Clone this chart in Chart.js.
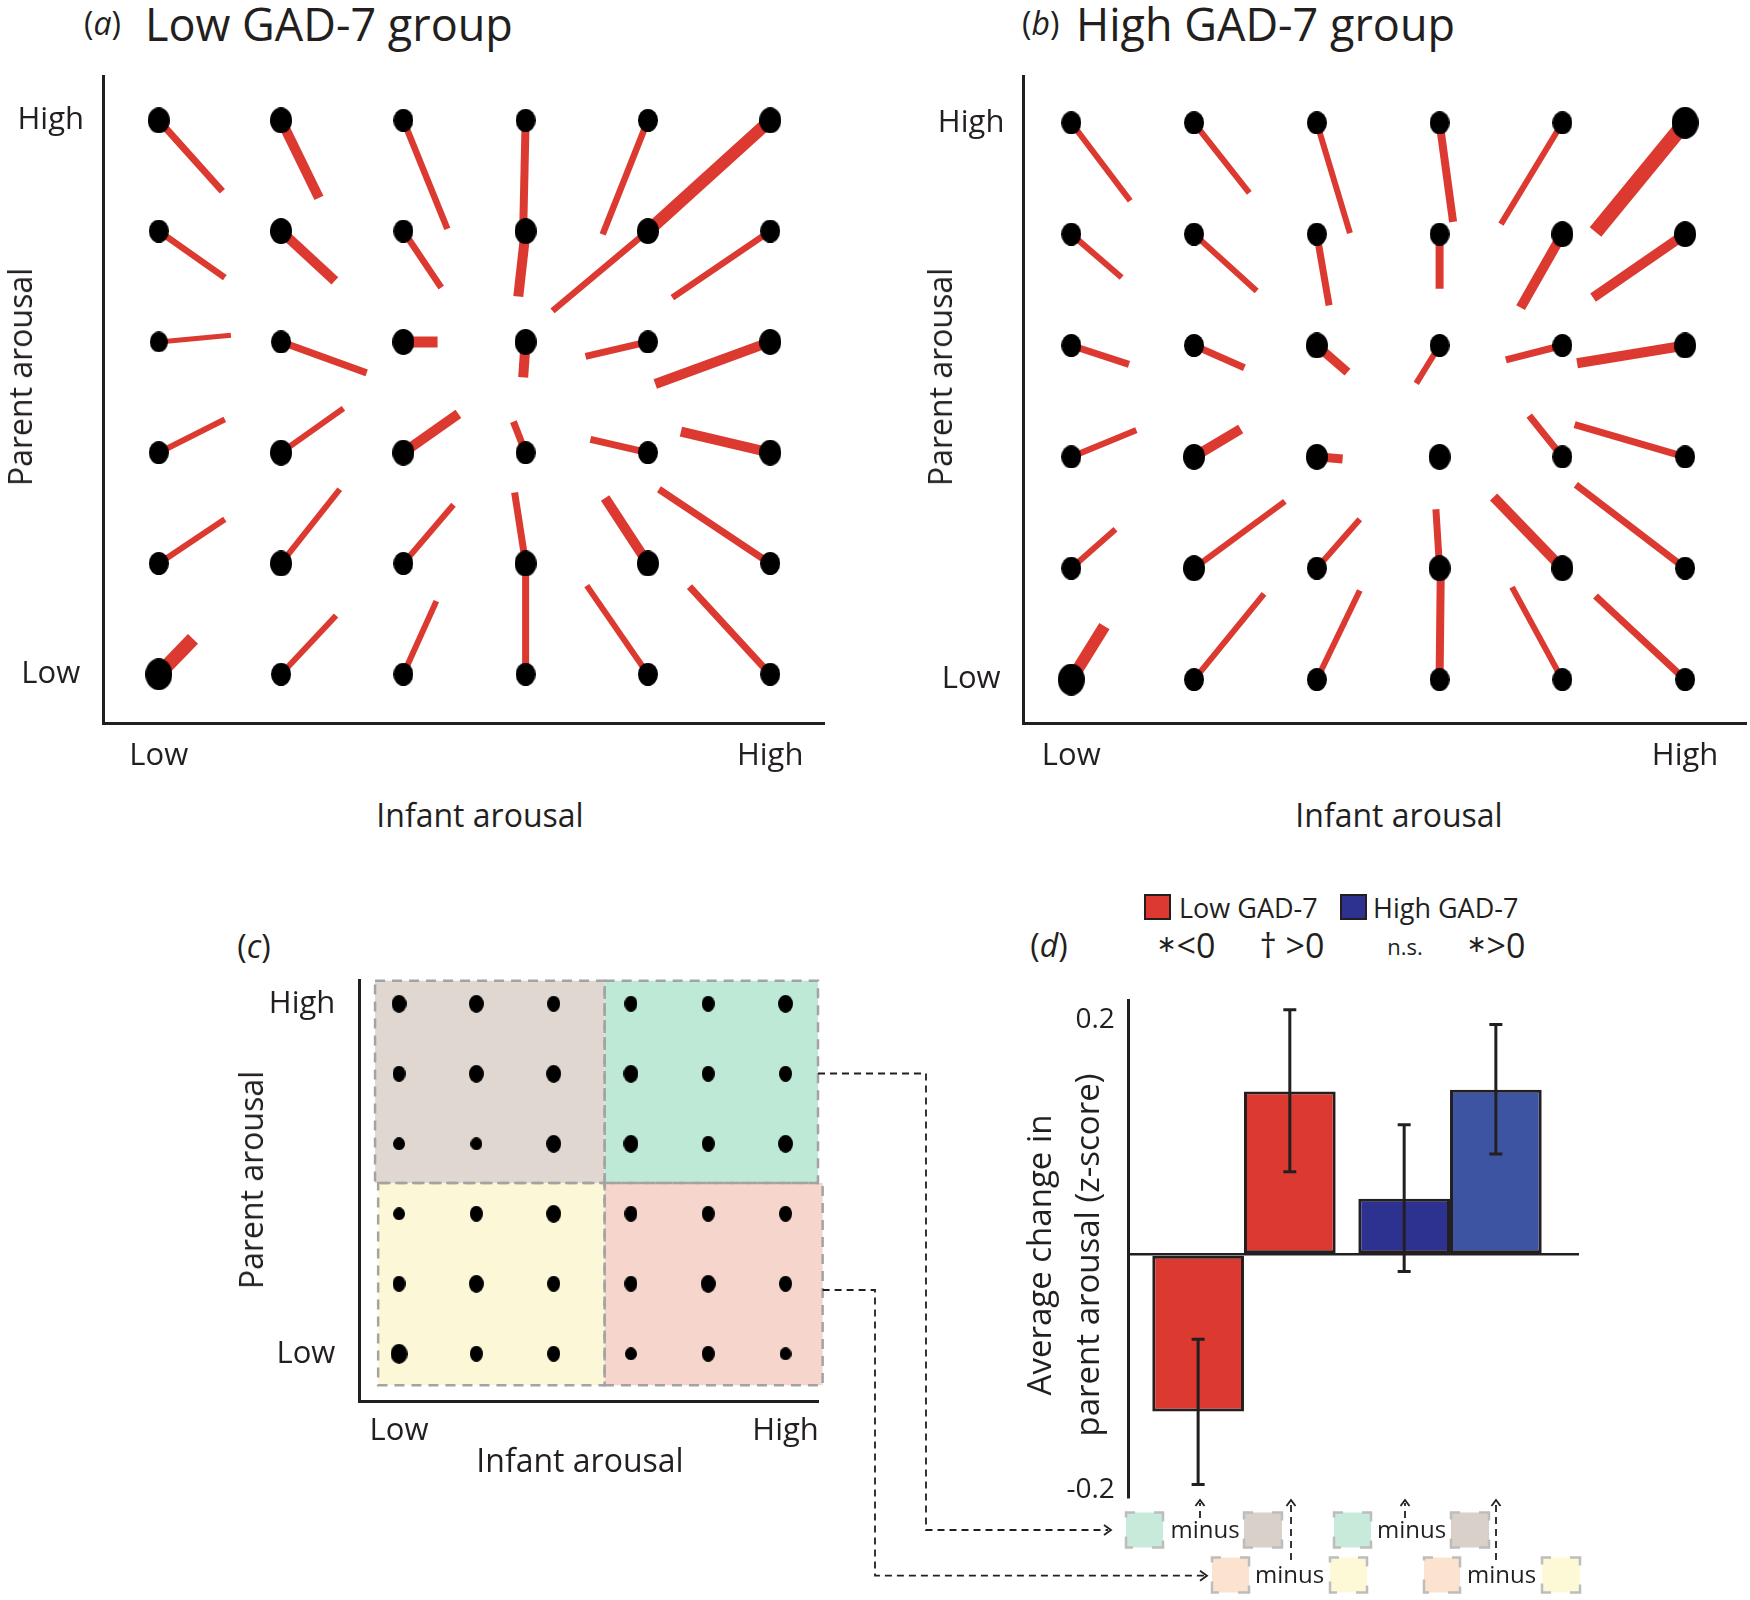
<!DOCTYPE html>
<html>
<head>
  <meta charset="UTF-8">
  <title>Parent and infant arousal dynamics</title>
  <script src="https://cdn.jsdelivr.net/npm/chart.js@4.4.0/dist/chart.umd.min.js"></script>
  <style>
    body { margin: 0; background: #fff; }
    #page { position: relative; width: 1750px; height: 1600px; overflow: hidden;
            font-family: 'Open Sans', 'DejaVu Sans', sans-serif; color: #231f20; }
    .box { position: absolute; }
    .txt { position: absolute; white-space: nowrap; line-height: 1; }
    .l { transform: translateY(-50%); }
    .c { transform: translate(-50%, -50%); }
    .rot { transform: translate(-50%, -50%) rotate(-90deg); }
    .sw { position: absolute; width: 27px; height: 26px; box-sizing: border-box; border: 2.5px solid #231f20; }
    .star { font-size: 24px; font-family: 'DejaVu Sans', sans-serif; position: relative; top: -6px; }
    svg { position: absolute; left: 0; top: 0; }
  </style>
</head>
<body>
<div id="page">

  <div class="txt l" style="left:84px;top:23px;font-size:32px">(<i>a</i>)</div>
  <div class="txt l" style="left:145px;top:23px;font-size:45px">Low GAD-7 group</div>
  <div class="txt l" style="left:1022px;top:23px;font-size:32px">(<i>b</i>)</div>
  <div class="txt l" style="left:1076px;top:23px;font-size:45px">High GAD-7 group</div>

  <div class="box" style="left:0;top:60px;width:850px;height:720px"><canvas id="chartA"></canvas></div>
  <div class="box" style="left:880px;top:60px;width:870px;height:720px"><canvas id="chartB"></canvas></div>

  <div class="txt rot" style="left:20px;top:377px;font-size:32px">Parent arousal</div>
  <div class="txt c" style="left:480px;top:815px;font-size:32px">Infant arousal</div>
  <div class="txt rot" style="left:940px;top:377px;font-size:32px">Parent arousal</div>
  <div class="txt c" style="left:1399px;top:815px;font-size:32px">Infant arousal</div>

  <div class="txt c" style="left:254px;top:946px;font-size:32px">(<i>c</i>)</div>
  <div class="box" style="left:250px;top:960px;width:590px;height:500px"><canvas id="chartC"></canvas></div>
  <div class="txt rot" style="left:251px;top:1180px;font-size:32px">Parent arousal</div>
  <div class="txt c" style="left:580px;top:1460px;font-size:32px">Infant arousal</div>

  <div class="txt c" style="left:1049px;top:945px;font-size:32px">(<i>d</i>)</div>
  <div class="sw" style="left:1144px;top:894px;background:#dc3930"></div>
  <div class="txt l" style="left:1179px;top:907px;font-size:27px">Low GAD-7</div>
  <div class="sw" style="left:1340px;top:894px;background:#2d3291"></div>
  <div class="txt l" style="left:1373px;top:907px;font-size:27px">High GAD-7</div>
  <div class="txt c" style="left:1186px;top:945px;font-size:34px"><span class="star">∗</span>&lt;0</div>
  <div class="txt c" style="left:1292px;top:945px;font-size:34px">† &gt;0</div>
  <div class="txt c" style="left:1405px;top:946px;font-size:22px">n.s.</div>
  <div class="txt c" style="left:1496px;top:945px;font-size:34px"><span class="star">∗</span>&gt;0</div>

  <div class="box" style="left:1020px;top:980px;width:600px;height:540px"><canvas id="chartD"></canvas></div>
  <div class="txt rot" style="left:1038px;top:1255px;font-size:33px">Average change in</div>
  <div class="txt rot" style="left:1086px;top:1255px;font-size:33px">parent arousal (z-score)</div>

  <svg width="1750" height="1600">
    <g fill="none" stroke="#231f20" stroke-width="1.8" stroke-dasharray="7 5">
      <path d="M818 1073.5 H926 V1530 H1108"/>
      <path d="M822.6 1290 H875 V1575.7 H1204"/>
      <path d="M1200 1518 V1503"/>
      <path d="M1291 1560 V1503"/>
      <path d="M1405 1518 V1503"/>
      <path d="M1496 1560 V1503"/>
    </g>
    <g fill="none" stroke="#231f20" stroke-width="1.8">
      <path d="M1104 1525 L1111 1530 L1104 1535"/>
      <path d="M1200 1570.7 L1207 1575.7 L1200 1580.7"/>
      <path d="M1195.5 1506 L1200 1500 L1204.5 1506"/>
      <path d="M1286.5 1506 L1291 1500 L1295.5 1506"/>
      <path d="M1400.5 1506 L1405 1500 L1409.5 1506"/>
      <path d="M1491.5 1506 L1496 1500 L1500.5 1506"/>
    </g>
    <g stroke="#bdbdbd" stroke-width="2.5" stroke-dasharray="18 19" stroke-dashoffset="9">
      <rect x="1126" y="1512.5" width="37" height="35" fill="#c8eadb"/>
      <rect x="1244" y="1512.5" width="38" height="35" fill="#d8d0c9"/>
      <rect x="1334" y="1512.5" width="37" height="35" fill="#c8eadb"/>
      <rect x="1451" y="1512.5" width="38" height="35" fill="#d8d0c9"/>
      <rect x="1212" y="1557.5" width="37" height="35" fill="#fbe3cf"/>
      <rect x="1330" y="1557.5" width="37" height="35" fill="#fdf9d6"/>
      <rect x="1424" y="1557.5" width="36" height="35" fill="#fbe3cf"/>
      <rect x="1542" y="1557.5" width="38" height="35" fill="#fdf9d6"/>
    </g>
    <g font-family="Open Sans, sans-serif" font-size="24" fill="#231f20" text-anchor="middle">
      <text x="1205" y="1538">minus</text>
      <text x="1411.5" y="1538">minus</text>
      <text x="1289.5" y="1583">minus</text>
      <text x="1501.5" y="1583">minus</text>
    </g>
  </svg>
</div>

<script>
  // grid rows run from High (top) to Low (bottom) parent arousal, columns Low -> High infant arousal
  const levelLabels = ['Low', 'High'];

  const lowGadDx = [
    [0.52, 0.31, 0.36, -0.02, -0.37, -0.98],
    [0.54, 0.44, 0.31, -0.06, -0.78, -0.80],
    [0.59, 0.70, 0.28, -0.02, -0.51, -0.94],
    [0.54, 0.51, 0.45, -0.10, -0.47, -0.73],
    [0.54, 0.48, 0.41, -0.09, -0.35, -0.91],
    [0.28, 0.45, 0.27, 0.00, -0.50, -0.66]
  ];
  const lowGadDy = [
    [-0.64, -0.70, -0.98, -1.00, -1.03, -0.98],
    [-0.42, -0.45, -0.51, -0.59, -0.72, -0.60],
    [0.06, -0.28, 0.00, -0.32, -0.13, -0.38],
    [0.30, 0.40, 0.35, 0.28, 0.12, 0.19],
    [0.40, 0.67, 0.53, 0.64, 0.59, 0.67],
    [0.32, 0.53, 0.66, 1.00, 0.80, 0.79]
  ];
  const lowGadWeight = [
    [7, 10, 6.5, 8, 6.5, 12.5],
    [6.5, 10, 6.5, 10, 6.5, 6.5],
    [5, 7, 11, 10, 7, 10],
    [6, 6, 10, 7, 7, 10],
    [6, 6, 6, 7, 10, 7],
    [14, 6, 6, 7, 6, 7]
  ];
  const lowGadDot = [
    [3, 3, 2, 2, 2, 3],
    [2, 3, 2, 3, 3, 2],
    [1, 2, 3, 3, 2, 3],
    [2, 3, 3, 2, 2, 3],
    [2, 3, 2, 3, 3, 2],
    [4, 2, 2, 2, 2, 2]
  ];

  const highGadDx = [
    [0.48, 0.45, 0.27, 0.11, -0.50, -0.73],
    [0.41, 0.51, 0.10, 0.00, -0.34, -0.75],
    [0.47, 0.41, 0.25, -0.19, -0.46, -0.88],
    [0.53, 0.38, 0.21, 0.00, -0.27, -0.90],
    [0.36, 0.74, 0.35, -0.03, -0.56, -0.89],
    [0.27, 0.57, 0.35, 0.01, -0.41, -0.73]
  ];
  const highGadDy = [
    [-0.70, -0.63, -0.99, -0.89, -0.91, -0.98],
    [-0.39, -0.51, -0.64, -0.49, -0.66, -0.57],
    [-0.17, -0.20, -0.24, -0.34, -0.13, -0.16],
    [0.24, 0.25, -0.02, 0.00, 0.37, 0.29],
    [0.35, 0.60, 0.44, 0.53, 0.64, 0.75],
    [0.48, 0.77, 0.80, 1.00, 0.83, 0.75]
  ];
  const highGadWeight = [
    [6, 6, 6, 8, 6, 15],
    [6, 6, 7, 8, 10, 10],
    [7, 7, 9, 6, 7, 10],
    [6, 10, 9, 0, 7, 7],
    [6, 6, 6, 7, 10, 7],
    [12, 6, 6, 8, 6, 7]
  ];
  const highGadDot = [
    [2, 2, 2, 2, 2, 4],
    [2, 2, 2, 2, 3, 3],
    [2, 2, 3, 2, 2, 3],
    [2, 3, 3, 3, 2, 2],
    [2, 3, 2, 3, 3, 2],
    [4, 2, 2, 2, 2, 2]
  ];

  // panel c: state occupancy and the four quadrants
  const stateDot = [
    [3, 3, 2, 2, 2, 3],
    [2, 3, 3, 3, 2, 2],
    [1, 1, 3, 3, 2, 3],
    [1, 2, 3, 2, 2, 2],
    [2, 3, 2, 2, 3, 2],
    [4, 2, 2, 1, 2, 1]
  ];
  const quadX0 = [-0.31, 2.66, -0.27, 2.66];
  const quadX1 = [2.66, 5.42, 2.66, 5.48];
  const quadY0 = [2.44, 2.44, -0.45, -0.45];
  const quadY1 = [5.33, 5.33, 2.44, 2.44];

  // panel d: mean change in parent arousal, Low GAD-7 then High GAD-7
  const groups = ['Low GAD-7', 'High GAD-7'];
  const upperDiff = [-0.1335, 0.0476];     // high parent arousal: green minus grey
  const upperLow = [-0.1957, -0.0143];
  const upperHigh = [-0.072, 0.1105];
  const lowerDiff = [0.1387, 0.1403];      // low parent arousal: peach minus yellow
  const lowerLow = [0.0705, 0.0856];
  const lowerHigh = [0.2084, 0.1957];
  const valueTicks = [-0.2, 0, 0.2];

  const INK = '#231f20';
  const RED = '#dc3a31';
  const FONT = "'Open Sans', 'DejaVu Sans', sans-serif";
  const quadColors = ['#e0d8d0', '#bfe9d7', '#fcf8d7', '#f6d6cc'];

  function ellipse(w, h) {
    const c = document.createElement('canvas');
    c.width = w; c.height = h;
    const g = c.getContext('2d');
    g.fillStyle = '#000';
    g.beginPath();
    g.ellipse(w / 2, h / 2, w / 2, h / 2, 0, 0, Math.PI * 2);
    g.fill();
    return c;
  }
  const fieldDots = { 1: ellipse(18, 21), 2: ellipse(20, 23), 3: ellipse(22, 26), 4: ellipse(27, 32) };
  const stateDots = { 1: ellipse(12, 13), 2: ellipse(13, 16), 3: ellipse(15, 18), 4: ellipse(17, 20) };

  // fixed-size axis boxes, so the plot area lands where the figure has it
  const fixWidth = w => s => { s.width = w; s.paddingTop = 0; s.paddingBottom = 0; };
  const fixHeight = h => s => { s.height = h; s.paddingLeft = 0; s.paddingRight = 0; };

  function levelScale(range, fit, tickPad, crossAlign) {
    return {
      type: 'linear', min: range[0], max: range[1], bounds: 'data',
      grid: { display: false, drawTicks: false, tickLength: 0 },
      border: { display: true, color: INK, width: 3 },
      afterBuildTicks: s => { s.ticks = [{ value: 0 }, { value: 5 }]; },
      afterFit: fit,
      ticks: { callback: v => v === 0 ? levelLabels[0] : levelLabels[1], font: { family: FONT, size: 31 },
               color: INK, padding: tickPad, maxRotation: 0, autoSkip: false, crossAlign: crossAlign || 'near' }
    };
  }

  function dotDataset(sizes, imgs) {
    const data = [], styles = [];
    sizes.forEach((row, i) => row.forEach((s, j) => {
      data.push({ x: j, y: 5 - i });
      styles.push(imgs[s]);
    }));
    return { data, pointStyle: styles, pointRadius: 10, order: 0 };
  }

  function fieldChart(id, dx, dy, weight, dots, xr, yr, yWidth, padRight) {
    const datasets = [dotDataset(dots, fieldDots)];
    dx.forEach((row, i) => row.forEach((v, j) => {
      if (!weight[i][j]) return;
      const y = 5 - i;
      datasets.push({
        data: [{ x: j, y }, { x: j + v, y: y + dy[i][j] }],
        showLine: true, borderColor: RED, borderWidth: weight[i][j], pointRadius: 0, order: 1
      });
    }));
    new Chart(document.getElementById(id), {
      type: 'scatter',
      data: { datasets },
      options: {
        responsive: true, maintainAspectRatio: false, animation: false, events: [],
        layout: { padding: { top: 16, right: padRight, left: 0, bottom: 0 }, autoPadding: false },
        plugins: { legend: { display: false }, tooltip: { enabled: false } },
        scales: {
          x: levelScale(xr, fixHeight(57), 15),
          y: levelScale(yr, fixWidth(yWidth), 19, 'center')
        }
      }
    });
  }

  Chart.defaults.font.family = FONT;

  fieldChart('chartA', lowGadDx, lowGadDy, lowGadWeight, lowGadDot, [-0.456, 5.44], [-0.44, 5.40], 103, 26);
  fieldChart('chartB', highGadDx, highGadDy, highGadWeight, highGadDot, [-0.39, 5.5], [-0.39, 5.42], 143.4, 3.5);

  const quadrantPlugin = {
    id: 'quadrants',
    beforeDatasetsDraw(chart) {
      const { ctx, scales: { x, y } } = chart;
      const rect = k => {
        const l = x.getPixelForValue(quadX0[k]), r = x.getPixelForValue(quadX1[k]);
        const t = y.getPixelForValue(quadY1[k]), b = y.getPixelForValue(quadY0[k]);
        return [l, t, r - l, b - t];
      };
      ctx.save();
      quadX0.forEach((_, k) => { ctx.fillStyle = quadColors[k]; ctx.fillRect(...rect(k)); });
      ctx.strokeStyle = '#a3a3a3';
      ctx.lineWidth = 2.5;
      ctx.setLineDash([10, 7]);
      quadX0.forEach((_, k) => ctx.strokeRect(...rect(k)));
      ctx.restore();
    }
  };

  new Chart(document.getElementById('chartC'), {
    type: 'scatter',
    data: { datasets: [dotDataset(stateDot, stateDots)] },
    options: {
      responsive: true, maintainAspectRatio: false, animation: false, events: [],
      layout: { padding: { top: 20.7, right: 22, left: 0, bottom: 0 }, autoPadding: false },
      plugins: { legend: { display: false }, tooltip: { enabled: false } },
      scales: {
        x: levelScale([-0.514, 5.42], fixHeight(58.6), 11),
        y: levelScale([-0.68, 5.33], fixWidth(109.3), 24)
      }
    },
    plugins: [quadrantPlugin]
  });

  const errorBarPlugin = {
    id: 'errorBars',
    afterDatasetsDraw(chart) {
      const { ctx, scales: { y } } = chart;
      ctx.save();
      ctx.strokeStyle = INK;
      ctx.lineWidth = 3;
      chart.data.datasets.forEach((ds, di) => {
        chart.getDatasetMeta(di).data.forEach((bar, i) => {
          const top = y.getPixelForValue(ds.errHigh[i]);
          const bot = y.getPixelForValue(ds.errLow[i]);
          ctx.beginPath();
          ctx.moveTo(bar.x, top); ctx.lineTo(bar.x, bot);
          ctx.moveTo(bar.x - 6.5, top); ctx.lineTo(bar.x + 6.5, top);
          ctx.moveTo(bar.x - 6.5, bot); ctx.lineTo(bar.x + 6.5, bot);
          ctx.stroke();
        });
      });
      ctx.restore();
    }
  };

  new Chart(document.getElementById('chartD'), {
    type: 'bar',
    data: {
      datasets: [
        { label: 'High parent arousal', data: groups.map((g, i) => ({ x: i, y: upperDiff[i] })),
          errLow: upperLow, errHigh: upperHigh, backgroundColor: ['#dc3930', '#2d3291'] },
        { label: 'Low parent arousal', data: groups.map((g, i) => ({ x: i, y: lowerDiff[i] })),
          errLow: lowerLow, errHigh: lowerHigh, backgroundColor: ['#dc3930', '#3c54a2'] }
      ]
    },
    options: {
      responsive: true, maintainAspectRatio: false, animation: false, events: [],
      layout: { padding: { top: 20.4, right: 41, left: 0, bottom: 22.4 }, autoPadding: false },
      datasets: { bar: { borderColor: INK, borderWidth: 3, borderSkipped: false,
                         categoryPercentage: 0.89, barPercentage: 1 } },
      plugins: { legend: { display: false }, tooltip: { enabled: false } },
      scales: {
        x: { type: 'linear', min: -0.559, max: 1.626, offset: false, display: false,
             afterBuildTicks: s => { s.ticks = groups.map((g, i) => ({ value: i })); } },
        y: {
          min: -0.2068, max: 0.2163, bounds: 'data',
          border: { display: true, color: INK, width: 3 },
          grid: { drawTicks: false, tickLength: 0, lineWidth: 2.5,
                  color: c => c.tick && c.tick.value === 0 ? INK : 'rgba(0,0,0,0)' },
          afterBuildTicks: s => { s.ticks = valueTicks.map(v => ({ value: v })); },
          afterFit: fixWidth(108.8),
          ticks: { callback: v => v === 0 ? '' : v.toFixed(1), font: { family: FONT, size: 28 },
                   color: INK, padding: 14, autoSkip: false }
        }
      }
    },
    plugins: [errorBarPlugin]
  });
</script>
</body>
</html>
